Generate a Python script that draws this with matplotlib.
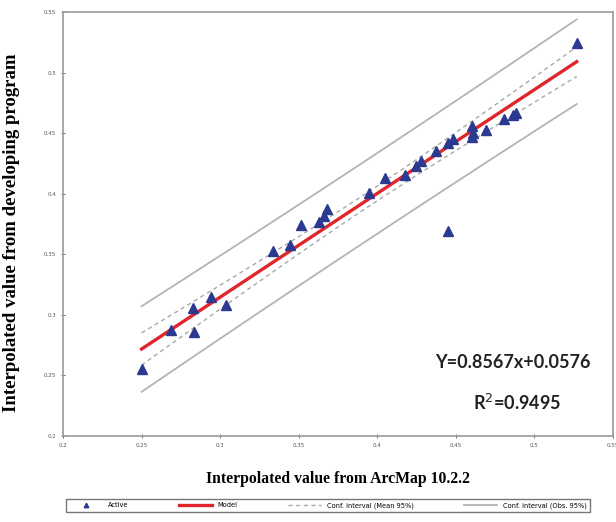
import numpy as np
import matplotlib
matplotlib.use("Agg")
import matplotlib.pyplot as plt

arcmap = [0.250, 0.2687, 0.2827, 0.2833, 0.2941, 0.3037, 0.3336, 0.3445, 0.3514,
          0.3629, 0.3660, 0.3680, 0.3947, 0.4050, 0.4177, 0.4247, 0.4279, 0.4374,
          0.4449, 0.4480, 0.4601, 0.4601, 0.4608, 0.4690, 0.4805, 0.4862, 0.4881,
          0.5269, 0.4449]
program = [0.2553, 0.2875, 0.3056, 0.2858, 0.3147, 0.3081, 0.3526, 0.3576, 0.3740,
           0.3766, 0.3815, 0.3873, 0.4005, 0.4129, 0.4153, 0.4228, 0.4269, 0.4351,
           0.4417, 0.4450, 0.4558, 0.4467, 0.4500, 0.4525, 0.4615, 0.4648, 0.4665,
           0.5243, 0.3691]

slope = 0.8567
intercept = 0.0576
r2 = 0.9495
t_crit = 2.048  # t(0.975, df=27)

ticks = [0.2, 0.25, 0.3, 0.35, 0.4, 0.45, 0.5, 0.55]
tick_labels = ["0.2", "0.25", "0.3", "0.35", "0.4", "0.45", "0.5", "0.55"]

x = np.array(arcmap)
y = np.array(program)
n = len(x)
resid = y - (slope * x + intercept)
s = np.sqrt(np.sum(resid ** 2) / (n - 2))
xbar = x.mean()
sxx = np.sum((x - xbar) ** 2)

xs = np.linspace(x.min(), x.max(), 100)
fit = slope * xs + intercept
half_mean = t_crit * s * np.sqrt(1 / n + (xs - xbar) ** 2 / sxx)
half_obs = t_crit * s * np.sqrt(1 + 1 / n + (xs - xbar) ** 2 / sxx)

fig = plt.figure(figsize=(6.16, 5.22), dpi=100)
ax = fig.add_axes([0.1023, 0.1648, 0.8929, 0.8122])

ax.plot(x, y, '^', color='#2b3990', markersize=6.5, label='Active', zorder=5)
ax.plot(xs, fit, color='#e0262b', linewidth=2.4, label='Model', zorder=4)
ax.plot(xs, fit + half_mean, '--', color='#a8a8a8', linewidth=1.0,
        dashes=(3, 2.5), label='Conf. interval (Mean 95%)')
ax.plot(xs, fit - half_mean, '--', color='#a8a8a8', linewidth=1.0, dashes=(3, 2.5))
ax.plot(xs, fit + half_obs, '-', color='#b4b4b4', linewidth=1.3,
        label='Conf. interval (Obs. 95%)')
ax.plot(xs, fit - half_obs, '-', color='#b4b4b4', linewidth=1.3)

ax.set_xlim(0.2, 0.55)
ax.set_ylim(0.2, 0.55)
ax.set_xticks(ticks)
ax.set_xticklabels(tick_labels)
ax.set_yticks(ticks)
ax.set_yticklabels(tick_labels)
ax.tick_params(labelsize=4, colors='#555555', length=3, width=0.6, direction='inout')
for sp in ax.spines.values():
    sp.set_color('#9a9a9a')
    sp.set_linewidth(1.2)

ax.text(0.486, 0.261, 'Y=0.8567x+0.0576', ha='center', va='center',
        fontsize=13, fontweight='bold', family='Lato', color='#222222')
ax.text(0.489, 0.227, 'R$^2$=0.9495', ha='center', va='center',
        fontsize=13, fontweight='bold', family='Lato', color='#222222')

ax.set_xlabel('Interpolated value from ArcMap 10.2.2', family='Liberation Serif',
              fontweight='bold', fontsize=11.3)
ax.xaxis.set_label_coords(0.5, -0.082)
ax.set_ylabel('Interpolated value from developing program', family='Liberation Serif',
              fontweight='bold', fontsize=13.5)
ax.yaxis.set_label_coords(-0.078, 0.48)

leg = fig.legend(loc='lower left', bbox_to_anchor=(0.102, 0.013, 0.861, 0.037),
                 mode='expand', ncol=4, fontsize=4.8, frameon=True, fancybox=False,
                 edgecolor='#555555', handlelength=5, borderpad=0.5, markerscale=0.5)
leg.get_frame().set_linewidth(1.0)

fig.savefig('out.png', dpi=100)
